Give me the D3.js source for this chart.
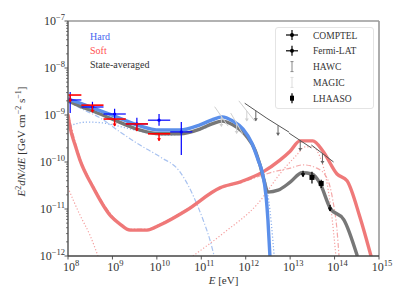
<!DOCTYPE html>
<html><head><meta charset="utf-8">
<script src="https://cdn.jsdelivr.net/npm/d3@7"></script>
<style>body{margin:0;background:#fff;} svg{display:block;} text{font-family:"Liberation Serif","DejaVu Serif",serif;}</style>
</head><body><svg id="c" width="407" height="305"></svg>
<script>
// ---- data (log10 E[eV], log10 E^2dN/dE [GeV cm^-2 s^-1]) ----
const hardLogE  = [8.00,8.27,8.56,9.04,9.55,10.07,10.52,10.97,11.24,11.47,11.71,11.94,12.14,12.28,12.37,12.46,12.50,12.545];
const hardLogF  = [-8.66,-8.745,-8.85,-9.02,-9.21,-9.32,-9.32,-9.21,-9.105,-9.04,-9.13,-9.30,-9.60,-9.96,-10.21,-10.745,-11.23,-12.0];
const avgLogE   = [8.00,8.27,8.56,9.04,9.55,10.07,10.52,10.97,11.24,11.47,11.71,12.03,12.21,12.32,12.41,12.50,12.73,13.00,13.27,13.49,13.67,13.90,14.21,14.505];
const avgLogF   = [-8.70,-8.81,-8.915,-9.105,-9.30,-9.40,-9.40,-9.30,-9.19,-9.13,-9.21,-9.47,-9.745,-10.06,-10.38,-10.64,-10.60,-10.43,-10.23,-10.255,-10.45,-10.98,-11.23,-11.98];
const softLogE  = [8.00,8.045,8.16,8.27,8.56,8.945,9.17,9.395,9.78,10.07,10.68,11.42,11.87,12.39,12.77,13.00,13.22,13.51,13.74,14.055,14.28,14.57,14.82];
const softLogF  = [-9.00,-9.255,-9.64,-9.96,-10.53,-11.13,-11.32,-11.45,-11.45,-11.34,-11.02,-10.55,-10.425,-10.21,-9.96,-9.77,-9.55,-9.55,-9.77,-10.255,-10.40,-11.17,-12.0];
const hardSynLogE = [8.00,8.16,8.45,8.79,9.33,9.78,10.18,10.63,11.08,11.47,11.76,11.98,12.19,12.32,12.46,12.545,12.61,12.64];
const hardSynLogF = [-9.28,-9.19,-9.15,-9.17,-9.28,-9.38,-9.43,-9.40,-9.28,-9.13,-9.21,-9.38,-9.68,-10.02,-10.49,-11.02,-11.66,-12.0];
const hardBrLogE  = [8.00,8.27,8.72,9.17,9.62,10.07,10.52,10.81,11.04,11.195,11.29];
const hardBrLogF  = [-8.70,-8.85,-9.06,-9.36,-9.64,-9.89,-10.21,-10.70,-11.23,-11.66,-12.0];
const softLowLogE = [8.00,8.27,8.50,8.675];
const softLowLogF = [-10.55,-11.13,-11.57,-12.0];
const softIcLogE  = [10.81,11.53,12.25,12.84,13.15,13.33,13.51,13.67,13.83,13.94,14.03];
const softIcLogF  = [-12.0,-11.49,-10.91,-10.17,-9.85,-9.68,-9.68,-9.89,-10.45,-11.17,-12.0];
const softBrLogE  = [8.00,8.27,8.56,8.945,9.395,9.78,10.07,10.68,11.42,11.87,12.25,12.545,13.00,13.29,13.60,13.83,13.96,14.055,14.10];
const softBrLogF  = [-8.96,-9.91,-10.49,-11.085,-11.43,-11.43,-11.32,-11.00,-10.55,-10.45,-10.32,-10.23,-10.13,-10.06,-10.13,-10.34,-10.81,-11.45,-12.0];

// Fermi-LAT bins (eV)
const binLo   = [6.3e7,2.0e8,6.3e8,2.0e9,6.3e9,2.0e10];
const binHi   = [2.0e8,6.3e8,2.0e9,6.3e9,2.0e10,6.3e10];
const binMid  = [1.12e8,3.55e8,1.12e9,3.55e9,1.12e10,3.55e10];
const hardF   = [2.09e-9,1.48e-9,1.05e-9,6.46e-10,7.76e-10,4.37e-10];
const hardFhi = [3.09e-9,1.91e-9,1.35e-9,8.7e-10,1.05e-9,7.08e-10];
const hardFlo = [1.10e-9,1.15e-9,7.76e-10,4.79e-10,5.89e-10,1.41e-10];
const softUL  = [2.66e-9,1.62e-9,8.2e-10,6.46e-10,3.98e-10];

// HAWC / MAGIC upper-limit segments
const hawcElo = [9.5e11,3.0e12,9.5e12,3.0e13];
const hawcEhi = [3.0e12,9.5e12,3.0e13,9.5e13];
const hawcFlo = [1.78e-9,8.5e-10,4.1e-10,2.3e-10];
const hawcFhi = [8.5e-10,4.3e-10,2.0e-10,1.0e-10];
const magicElo = [2.0e11,4.6e11,7.0e11];
const magicEhi = [4.0e11,8.5e11,1.6e12];
const magicFlo = [1.5e-9,1.1e-9,2.0e-9];
const magicFhi = [5.8e-10,4.0e-10,7.4e-10];

// LHAASO and other points
const lhaasoE = [3.1e13,5.0e13];
const lhaasoF = [4.7e-11,3.5e-11];
const lhaasoHi = [6.2e-11,4.2e-11];
const lhaasoLo = [3.5e-11,2.8e-11];
const ulE = [1.95e13,7.9e13];
const ulF = [5.6e-11,1.05e-11];

const yTicks = [1e-12,1e-11,1e-10,1e-9,1e-8,1e-7];
const yExp = ["−12","−11","−10","−9","−8","−7"];
const xTicks = [1e8,1e9,1e10,1e11,1e12,1e13,1e14,1e15];
const xExp = ["8","9","10","11","12","13","14","15"];
const legendLabels = ["COMPTEL","Fermi-LAT","HAWC","MAGIC","LHAASO"];

// ---- chart ----
const L=68,R=379,T=21,B=256;
const svg = d3.select('#c');
const x = d3.scaleLog().domain([1e8,1e15]).range([L,R]);
const y = d3.scaleLog().domain([1e-12,1e-7]).range([B,T]);

svg.append('defs').append('clipPath').attr('id','clip')
  .append('rect').attr('x',L).attr('y',T).attr('width',R-L).attr('height',B-T);
const g = svg.append('g').attr('clip-path','url(#clip)');

const line = d3.line().x(d=>x(10**d[0])).y(d=>y(10**d[1])).curve(d3.curveMonotoneX);
const zip=(a,b)=>a.map((v,i)=>[v,b[i]]);
function curve(e,f,color,w,dash,op){
  g.append('path').attr('d',line(zip(e,f))).attr('fill','none').attr('stroke',color)
   .attr('stroke-width',w).attr('stroke-dasharray',dash||null).attr('opacity',op||1)
   .attr('stroke-linejoin','round').attr('stroke-linecap',dash?'butt':'round');
}
curve(softLowLogE,softLowLogF,'#f5a0a0',1.2,'1.2,2');
curve(softIcLogE,softIcLogF,'#f5a0a0',1.2,'1.2,2');
curve(softBrLogE,softBrLogF,'#f4a8a8',1.2,'5,2,1.2,2');
curve(hardSynLogE,hardSynLogF,'#8fb2ee',1.3,'1.2,2');
curve(hardBrLogE,hardBrLogF,'#a8c2f0',1.2,'5,2,1.2,2');
curve(softLogE,softLogF,'#ee7272',3.4,null,0.95);
curve(avgLogE,avgLogF,'#777777',3.4);
curve(hardLogE,hardLogF,'#5b8fea',3.4);

function arrow(px,py,len,color,w){
  g.append('line').attr('x1',px).attr('x2',px).attr('y1',py).attr('y2',py+len).attr('stroke',color).attr('stroke-width',w);
  g.append('path').attr('d',`M${px-2},${py+len-2.5}L${px+2},${py+len-2.5}L${px},${py+len+0.5}Z`).attr('fill',color);
}
magicElo.forEach((e,i)=>{
  g.append('line').attr('x1',x(e)).attr('x2',x(magicEhi[i])).attr('y1',y(magicFlo[i])).attr('y2',y(magicFhi[i]))
   .attr('stroke','#d0d0d0').attr('stroke-width',1);
  const mx=(x(e)+x(magicEhi[i]))/2,my=(y(magicFlo[i])+y(magicFhi[i]))/2;
  arrow(mx,my,10,'#d0d0d0',1);
});
hawcElo.forEach((e,i)=>{
  g.append('line').attr('x1',x(e)).attr('x2',x(hawcEhi[i])).attr('y1',y(hawcFlo[i])).attr('y2',y(hawcFhi[i]))
   .attr('stroke','#555').attr('stroke-width',1);
  const mx=(x(e)+x(hawcEhi[i]))/2,my=(y(hawcFlo[i])+y(hawcFhi[i]))/2;
  arrow(mx,my,10,'#666',1);
});

binMid.forEach((e,i)=>{
  g.append('line').attr('x1',x(binLo[i])).attr('x2',x(binHi[i])).attr('y1',y(hardF[i])).attr('y2',y(hardF[i])).attr('stroke','#0000ff').attr('stroke-width',1.2);
  g.append('line').attr('x1',x(e)).attr('x2',x(e)).attr('y1',y(hardFhi[i])).attr('y2',y(hardFlo[i])).attr('stroke','#0000ff').attr('stroke-width',1.2);
  g.append('circle').attr('cx',x(e)).attr('cy',y(hardF[i])).attr('r',1.6).attr('fill','#0000ff');
});
softUL.forEach((f,i)=>{
  g.append('line').attr('x1',x(binLo[i])).attr('x2',x(binHi[i])).attr('y1',y(f)).attr('y2',y(f)).attr('stroke','#ff0000').attr('stroke-width',1.6);
  arrow(x(binMid[i]),y(f),7,'#ff0000',1.4);
});
lhaasoE.forEach((e,i)=>{
  g.append('line').attr('x1',x(e)).attr('x2',x(e)).attr('y1',y(lhaasoHi[i])).attr('y2',y(lhaasoLo[i])).attr('stroke','#000').attr('stroke-width',1.2);
  g.append('rect').attr('x',x(e)-2.5).attr('y',y(lhaasoF[i])-2.5).attr('width',5).attr('height',5).attr('fill','#000');
});
ulE.forEach((e,i)=>{
  g.append('line').attr('x1',x(e)-2).attr('x2',x(e)+2).attr('y1',y(ulF[i])).attr('y2',y(ulF[i])).attr('stroke','#000').attr('stroke-width',1);
  arrow(x(e),y(ulF[i])-3,6,'#000',1.2);
});

// ---- axes ----
const ax = svg.append('g');
ax.append('line').attr('x1',L).attr('x2',R).attr('y1',T).attr('y2',T).attr('stroke','#999').attr('stroke-width',1.6);
ax.append('line').attr('x1',R).attr('x2',R).attr('y1',T).attr('y2',B).attr('stroke','#999').attr('stroke-width',1.6);
ax.append('line').attr('x1',L).attr('x2',L).attr('y1',T).attr('y2',B).attr('stroke','#666').attr('stroke-width',1.6);
ax.append('line').attr('x1',L).attr('x2',R).attr('y1',B).attr('y2',B).attr('stroke','#444').attr('stroke-width',1.4);
yTicks.forEach((t,i)=>{
  ax.append('line').attr('x1',L-3.5).attr('x2',L).attr('y1',y(t)).attr('y2',y(t)).attr('stroke','#444').attr('stroke-width',0.9);
  const tx=ax.append('text').attr('x',L-3).attr('y',y(t)+4).attr('text-anchor','end').attr('font-size',12).attr('fill','#333');
  tx.append('tspan').text('10');
  tx.append('tspan').attr('dy',-5).attr('font-size',8.5).text(yExp[i]);
  if(i<yTicks.length-1){
    for(let k=2;k<10;k++){
      ax.append('line').attr('x1',L-2).attr('x2',L).attr('y1',y(t*k)).attr('y2',y(t*k)).attr('stroke','#444').attr('stroke-width',0.7);
    }
  }
});
xTicks.forEach((t,i)=>{
  ax.append('line').attr('x1',x(t)).attr('x2',x(t)).attr('y1',B).attr('y2',B+3.5).attr('stroke','#444').attr('stroke-width',0.9);
  const tx=ax.append('text').attr('x',x(t)+3).attr('y',B+15).attr('text-anchor','middle').attr('font-size',12).attr('fill','#333');
  tx.append('tspan').text('10');
  tx.append('tspan').attr('dy',-5).attr('font-size',8.5).text(xExp[i]);
});
const xl=svg.append('text').attr('x',(L+R)/2).attr('y',284).attr('text-anchor','middle').attr('font-size',11).attr('fill','#333');
xl.append('tspan').attr('font-style','italic').text('E');
xl.append('tspan').text(' [eV]');
const yl=svg.append('text').attr('transform',`translate(25,${(T+B)/2+3}) rotate(-90)`).attr('text-anchor','middle').attr('font-size',11).attr('fill','#333');
yl.append('tspan').attr('font-style','italic').text('E');
yl.append('tspan').attr('dy',-4).attr('font-size',8).text('2');
yl.append('tspan').attr('dy',4).attr('font-style','italic').text('dN/dE');
yl.append('tspan').text(' [GeV cm');
yl.append('tspan').attr('dy',-4).attr('font-size',8).text('−2');
yl.append('tspan').attr('dy',4).text(' s');
yl.append('tspan').attr('dy',-4).attr('font-size',8).text('−1');
yl.append('tspan').attr('dy',4).text(']');

svg.append('text').attr('x',90).attr('y',40).attr('font-size',10).attr('fill','#4466f0').text('Hard');
svg.append('text').attr('x',90).attr('y',54).attr('font-size',10).attr('fill','#ff5050').text('Soft');
svg.append('text').attr('x',90).attr('y',68).attr('font-size',10).attr('fill','#333').text('State-averaged');

const lg=svg.append('g');
lg.append('rect').attr('x',275.5).attr('y',27.5).attr('width',98).attr('height',81).attr('rx',2.5)
  .attr('fill','#fff').attr('fill-opacity',0.85).attr('stroke','#ddd').attr('stroke-width',0.8);
legendLabels.forEach((lab,i)=>{
  const cy=35+i*15.8, cx=292;
  if(i<2){
    lg.append('line').attr('x1',cx-6).attr('x2',cx+6).attr('y1',cy).attr('y2',cy).attr('stroke','#000').attr('stroke-width',1.2);
    lg.append('line').attr('x1',cx).attr('x2',cx).attr('y1',cy-5).attr('y2',cy+5).attr('stroke','#000').attr('stroke-width',1.2);
    lg.append('circle').attr('cx',cx).attr('cy',cy).attr('r',2).attr('fill','#000');
  } else if(i<4){
    const c=i==2?'#888':'#ddd';
    lg.append('line').attr('x1',cx).attr('x2',cx).attr('y1',cy-5).attr('y2',cy+5).attr('stroke',c).attr('stroke-width',1);
    lg.append('line').attr('x1',cx-1.5).attr('x2',cx+1.5).attr('y1',cy-5).attr('y2',cy-5).attr('stroke',c).attr('stroke-width',1);
    lg.append('line').attr('x1',cx-1.5).attr('x2',cx+1.5).attr('y1',cy+5).attr('y2',cy+5).attr('stroke',c).attr('stroke-width',1);
  } else {
    lg.append('line').attr('x1',cx).attr('x2',cx).attr('y1',cy-5).attr('y2',cy+5).attr('stroke','#000').attr('stroke-width',1.2);
    lg.append('rect').attr('x',cx-2).attr('y',cy-2.5).attr('width',4).attr('height',5).attr('fill','#000');
  }
  lg.append('text').attr('x',313).attr('y',cy+3.5).attr('font-size',9.5).attr('fill','#333').text(lab);
});
</script></body></html>
